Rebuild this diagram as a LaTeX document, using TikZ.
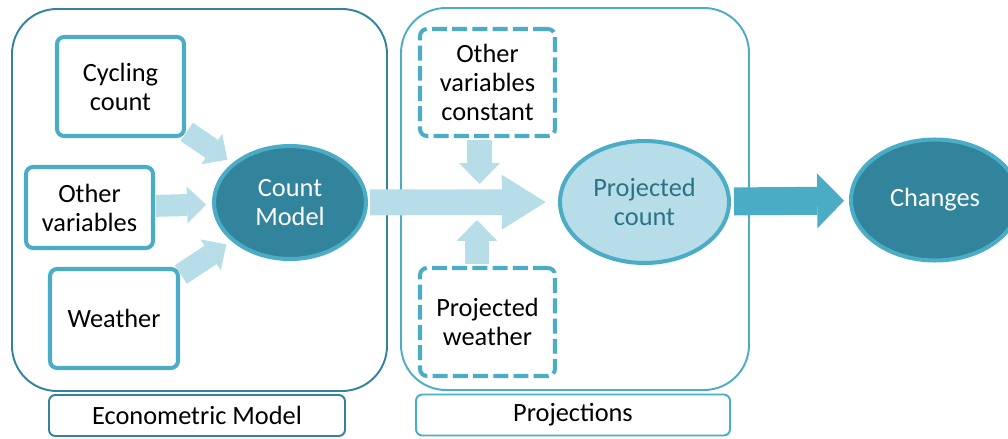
\documentclass[tikz,border=0pt]{standalone}
\usepackage{fontspec}
\setmainfont{Carlito}
\usetikzlibrary{arrows.meta}
\usetikzlibrary{shapes.geometric}

\definecolor{aqua}{HTML}{4BACC6}
\definecolor{darkaqua}{HTML}{31849B}
\definecolor{paleaqua}{HTML}{B7DDE8}
\definecolor{deepaqua}{HTML}{2A7285}

\begin{document}
\begin{tikzpicture}[x=0.02cm,y=-0.02cm,
    every node/.style={font=\fontsize{15}{16.5}\selectfont, align=center, inner sep=0pt},
    inbox/.style={draw=aqua, line width=2.3pt, rounded corners=4pt, fill=white,
        minimum width=2.54cm, minimum height=1.98cm},
    dashbox/.style={inbox, dash pattern=on 8.5pt off 3pt},
    model/.style={ellipse, draw=aqua, line width=2.3pt, fill=darkaqua, text=white},
    tag/.style={draw, line width=1.1pt, rounded corners=3.5pt, fill=white, minimum height=0.82cm},
    panel/.style={line width=1.1pt, rounded corners=0.9cm},
    feed/.style={paleaqua, line width=12.5pt,
        -{Triangle[width=21pt,length=10.8pt,line width=0pt]}, shorten <=0.5pt, shorten >=3.4pt},
    drop/.style={paleaqua, line width=14.2pt,
        -{Triangle[width=23.2pt,length=11.9pt,line width=0pt]}, shorten <=1pt},
    push/.style={line width=15.9pt,
        -{Triangle[width=31.2pt,length=15.3pt,line width=0pt]}},
]

    % page size, the last ellipse runs off the right edge
    \clip (0,0) rectangle (1008,439);

    % econometric model panel
    \draw[panel, darkaqua] (12,9) rectangle (387,391);
    \node[tag, draw=darkaqua, minimum width=5.92cm] (econ) at (197,415.5) {Econometric Model};

    % inputs
    \node[inbox] (cyc) at (120.5,86.5) {Cycling\\count};
    \node[inbox, minimum height=1.62cm] (ov) at (89.5,207.5) {Other\\variables};
    \node[inbox, minimum width=2.56cm] (wea) at (114,318.5) {Weather};
    \node[model, minimum width=3.04cm, minimum height=2.26cm] (cm) at (290,202.5) {Count\\Model};

    % projection inputs
    \node[dashbox, minimum width=2.7cm, minimum height=2.14cm] (oc) at (487.5,82.5) {Other\\variables\\constant};
    \node[dashbox, minimum width=2.7cm, minimum height=2.16cm] (pw) at (487.5,322) {Projected\\weather};
    \node[model, fill=paleaqua, text=deepaqua, minimum width=3.38cm, minimum height=2.44cm] (pc) at (644.5,202) {Projected\\count};
    \node[model, minimum width=3.36cm, minimum height=2.42cm] (ch) at (935,200) {Changes};

    \coordinate (dnend) at (479.5,184);
    \coordinate (upend) at (477,220);

    % arrows into the count model
    \foreach \src in {cyc,ov,wea}
        \draw[feed] (\src) -- (cm);

    % result arrow
    \draw[push, aqua, shorten <=1.7pt, shorten >=2.8pt] (pc) -- (ch);

    % projections panel
    \draw[panel, aqua] (401,8) rectangle (749,390);
    \node[tag, draw=aqua, minimum width=6.28cm] (proj) at (573,415) {Projections};

    % model carried into the projection
    \draw[paleaqua, line width=14.7pt, -{Triangle[width=31.2pt,length=25pt,line width=0pt]},
        shorten <=1pt, shorten >=7pt] (cm) -- (pc);

    % scenario inputs
    \draw[drop] (oc.south -| dnend) -- (dnend);
    \draw[drop] (pw.north -| upend) -- (upend);

\end{tikzpicture}
\end{document}
